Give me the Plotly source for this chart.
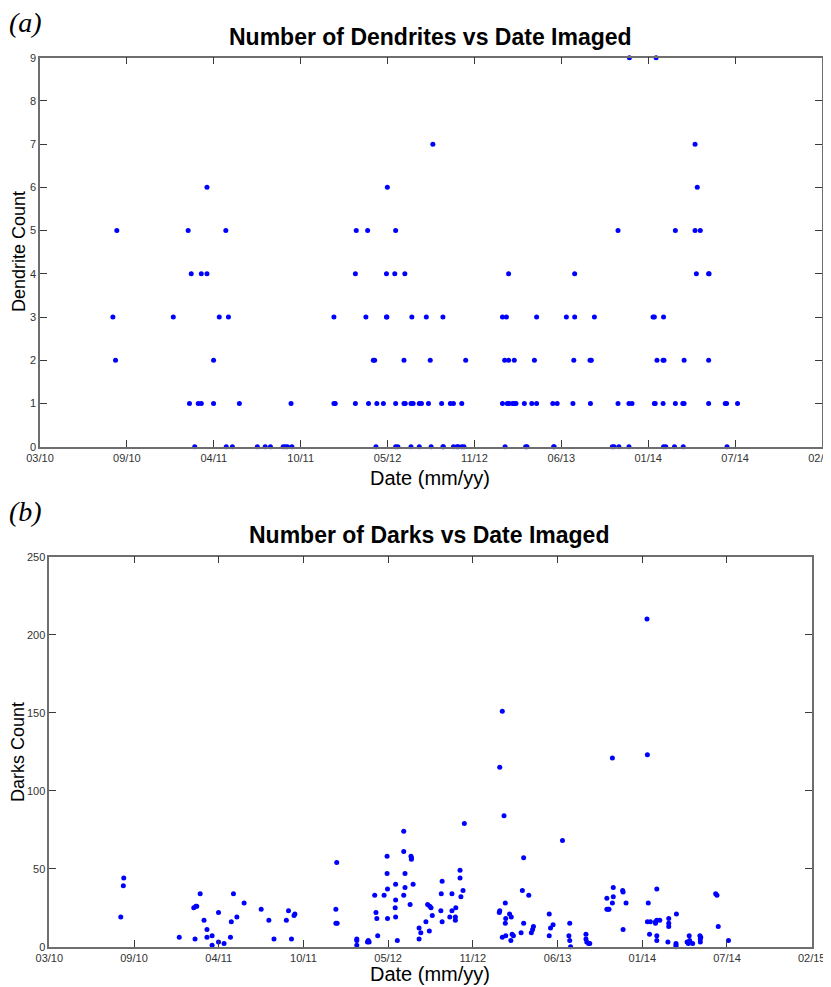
import pandas as pd
import plotly.graph_objects as go

# ---------------- data ----------------
TICK_LABELS = ["03/10", "09/10", "04/11", "10/11", "05/12", "11/12", "06/13", "01/14", "07/14", "02/15"]
X_START = "2010-03-13 12:00"
X_END = "2015-02-02 00:00"

DENDRITE_DATES = [
    "2013-11-19", "2014-01-19",
    "2012-08-27", "2014-04-18",
    "2011-03-30", "2012-05-15", "2014-04-23",
    "2010-09-05", "2011-02-15", "2011-05-12", "2012-03-05", "2012-03-31", "2012-06-03", "2013-10-24",
    "2014-03-04", "2014-04-18", "2014-04-30",
    "2011-02-22", "2011-03-17", "2011-03-30", "2012-03-03", "2012-05-13", "2012-06-01", "2012-06-24",
    "2013-02-16", "2013-07-17", "2014-04-21", "2014-05-19", "2014-05-20",
    "2010-08-27", "2011-01-12", "2011-04-27", "2011-05-18", "2012-01-14", "2012-03-27", "2012-05-13",
    "2012-05-14", "2012-07-10", "2012-08-12", "2012-09-19", "2013-02-02", "2013-02-11", "2013-04-21",
    "2013-06-28", "2013-07-17", "2013-08-31", "2014-01-12", "2014-01-15", "2014-02-05",
    "2010-09-02", "2011-04-14", "2012-04-13", "2012-04-16", "2012-06-22", "2012-08-21", "2012-11-10",
    "2013-02-07", "2013-02-16", "2013-03-01", "2013-04-16", "2013-07-15", "2013-08-21", "2013-08-24",
    "2014-01-21", "2014-02-04", "2014-02-06", "2014-03-24", "2014-05-19",
    "2011-02-18", "2011-03-10", "2011-03-17", "2011-04-14", "2011-06-12", "2011-10-08", "2012-01-14",
    "2012-01-17", "2012-03-03", "2012-04-02", "2012-04-21", "2012-05-06", "2012-06-03", "2012-06-22",
    "2012-06-25", "2012-07-08", "2012-07-13", "2012-07-27", "2012-08-01", "2012-08-17", "2012-09-16",
    "2012-10-06", "2012-10-13", "2012-11-01", "2013-02-02", "2013-02-13", "2013-02-17", "2013-02-25",
    "2013-03-01", "2013-03-05", "2013-03-24", "2013-04-10", "2013-04-21", "2013-05-28", "2013-06-07",
    "2013-07-13", "2013-08-22", "2013-10-24", "2013-11-18", "2013-11-25", "2014-01-15", "2014-01-17",
    "2014-02-04", "2014-03-04", "2014-03-21", "2014-03-24", "2014-05-19", "2014-06-26", "2014-06-29",
    "2014-07-24",
    "2011-03-02", "2011-05-13", "2011-05-27", "2011-07-23", "2011-08-10", "2011-08-22", "2011-09-20",
    "2011-09-25", "2011-09-30", "2011-10-10", "2012-04-19", "2012-06-03", "2012-06-08", "2012-07-08",
    "2012-07-27", "2012-08-23", "2012-09-19", "2012-09-20", "2012-10-13", "2012-10-21", "2012-10-24",
    "2012-11-01", "2012-11-06", "2013-02-08", "2013-03-27", "2013-03-30", "2013-05-30", "2013-05-31",
    "2013-10-11", "2013-10-15", "2013-10-26", "2013-11-18", "2014-02-05", "2014-02-10", "2014-03-02",
    "2014-03-22", "2014-06-30",
]
DENDRITE_COUNTS = [
    9, 9,
    7, 7,
    6, 6, 6,
    5, 5, 5, 5, 5, 5, 5,
    5, 5, 5,
    4, 4, 4, 4, 4, 4, 4,
    4, 4, 4, 4, 4,
    3, 3, 3, 3, 3, 3, 3,
    3, 3, 3, 3, 3, 3, 3,
    3, 3, 3, 3, 3, 3,
    2, 2, 2, 2, 2, 2, 2,
    2, 2, 2, 2, 2, 2, 2,
    2, 2, 2, 2, 2,
    1, 1, 1, 1, 1, 1, 1,
    1, 1, 1, 1, 1, 1, 1,
    1, 1, 1, 1, 1, 1, 1,
    1, 1, 1, 1, 1, 1, 1,
    1, 1, 1, 1, 1, 1, 1,
    1, 1, 1, 1, 1, 1, 1,
    1, 1, 1, 1, 1, 1, 1,
    1,
    0, 0, 0, 0, 0, 0, 0,
    0, 0, 0, 0, 0, 0, 0,
    0, 0, 0, 0, 0, 0, 0,
    0, 0, 0, 0, 0, 0, 0,
    0, 0, 0, 0, 0, 0, 0,
    0, 0,
]

DARKS_DATES = [
    "2010-08-28", "2010-09-03", "2010-09-04", "2011-01-12", "2011-02-15", "2011-02-20", "2011-02-22",
    "2011-02-18", "2011-03-02", "2011-03-11", "2011-03-18", "2011-03-18", "2011-03-30", "2011-03-30",
    "2011-04-14", "2011-04-14", "2011-04-27", "2011-05-12", "2011-05-14", "2011-05-19", "2011-05-27",
    "2011-06-13", "2011-07-23", "2011-08-10", "2011-08-22", "2011-09-20", "2011-09-25", "2011-10-02",
    "2011-10-08", "2011-10-10", "2012-01-16", "2012-01-14", "2012-01-14", "2012-01-17", "2012-03-03",
    "2012-03-03", "2012-03-03", "2012-03-28", "2012-03-30", "2012-04-01", "2012-04-14", "2012-04-17",
    "2012-04-19", "2012-04-21", "2012-05-06", "2012-05-13", "2012-05-13", "2012-05-14", "2012-05-14",
    "2012-06-01", "2012-06-02", "2012-06-02", "2012-06-02", "2012-06-06", "2012-06-21", "2012-06-21",
    "2012-06-24", "2012-06-24", "2012-06-21", "2012-07-06", "2012-07-08", "2012-07-09", "2012-07-09",
    "2012-07-13", "2012-07-27", "2012-07-27", "2012-07-31", "2012-08-12", "2012-08-16", "2012-08-21",
    "2012-08-24", "2012-08-20", "2012-08-27", "2012-09-16", "2012-09-19", "2012-09-17", "2012-09-19",
    "2012-10-07", "2012-10-12", "2012-10-12", "2012-10-20", "2012-10-20", "2012-10-21", "2012-10-31",
    "2012-10-31", "2012-11-02", "2012-11-07", "2012-11-10", "2013-02-01", "2013-02-07", "2013-02-11",
    "2013-01-31", "2013-02-01", "2013-02-07", "2013-02-14", "2013-02-14", "2013-02-15", "2013-02-15",
    "2013-02-24", "2013-02-28", "2013-02-27", "2013-03-02", "2013-03-05", "2013-03-26", "2013-03-29",
    "2013-03-23", "2013-03-29", "2013-04-10", "2013-04-16", "2013-04-19", "2013-04-21", "2013-05-28",
    "2013-05-28", "2013-05-31", "2013-06-06", "2013-06-28", "2013-07-13", "2013-07-15", "2013-07-15",
    "2013-07-17", "2013-08-22", "2013-08-22", "2013-08-24", "2013-08-28", "2013-08-31", "2013-10-10",
    "2013-10-10", "2013-10-13", "2013-10-15", "2013-10-25", "2013-10-25", "2013-10-23", "2013-10-23",
    "2013-11-16", "2013-11-17", "2013-11-17", "2013-11-24", "2014-01-12", "2014-01-13", "2014-01-15",
    "2014-01-13", "2014-01-20", "2014-01-18", "2014-02-01", "2014-02-01", "2014-02-04", "2014-02-04",
    "2014-02-04", "2014-02-04", "2014-02-11", "2014-03-04", "2014-03-04", "2014-03-04", "2014-03-02",
    "2014-03-21", "2014-03-21", "2014-03-21", "2014-03-22", "2014-04-16", "2014-04-19", "2014-04-22",
    "2014-04-21", "2014-04-29", "2014-05-16", "2014-05-17", "2014-05-17", "2014-05-18", "2014-06-22",
    "2014-06-25", "2014-06-28", "2014-07-22",
]
DARKS_COUNTS = [
    19, 39, 44, 6, 25, 26, 26,
    5, 34, 17, 11, 6, 7, 1,
    22, 3, 2, 6, 16, 34, 19,
    28, 24, 17, 5, 17, 23, 5,
    20, 21, 54, 24, 15, 15, 5,
    4, 1, 3, 4, 3, 33, 22,
    18, 7, 33, 58, 47, 37, 18,
    25, 40, 30, 19, 4, 74, 61,
    47, 38, 33, 27, 58, 57, 56,
    40, 12, 5, 9, 16, 27, 26,
    25, 10, 20, 23, 42, 34, 16,
    19, 34, 23, 19, 17, 25, 49,
    44, 32, 36, 79, 115, 151, 84,
    22, 23, 6, 28, 15, 18, 7,
    21, 19, 4, 8, 7, 36, 57,
    9, 15, 33, 9, 11, 13, 21,
    7, 12, 14, 68, 7, 4, 15,
    0, 8, 5, 3, 2, 2, 31,
    24, 24, 24, 38, 32, 28, 121,
    36, 35, 11, 28, 210, 123, 28,
    16, 16, 8, 16, 15, 17, 37,
    7, 4, 17, 18, 15, 13, 3,
    2, 1, 0, 21, 3, 2, 4,
    7, 2, 7, 5, 3, 6, 34,
    33, 13, 4,
]

# ---------------- layout helpers ----------------
# the page body has an 8 px default margin, so the figure is made 8 px smaller
# and every position is given in window pixels minus that offset
PAGE_OFFSET = 8
W, H = 831 - PAGE_OFFSET, 987 - PAGE_OFFSET


def px_x(x):
    return (x - PAGE_OFFSET) / W


def px_y(y):
    return 1 - (y - PAGE_OFFSET) / H


tickvals = pd.date_range(pd.Timestamp(X_START), pd.Timestamp(X_END), periods=len(TICK_LABELS))

FONT = "Liberation Sans, Arial, Helvetica, sans-serif"
SERIF = "Liberation Serif, Times New Roman, serif"
BLUE = "#0000FF"

fig = go.Figure()
fig.add_trace(go.Scatter(
    x=pd.to_datetime(DENDRITE_DATES), y=DENDRITE_COUNTS, mode="markers",
    marker=dict(color=BLUE, size=5, symbol="circle", line=dict(width=0)),
    xaxis="x", yaxis="y", cliponaxis=False, showlegend=False,
))
fig.add_trace(go.Scatter(
    x=pd.to_datetime(DARKS_DATES), y=DARKS_COUNTS, mode="markers",
    marker=dict(color=BLUE, size=5, symbol="circle", line=dict(width=0)),
    xaxis="x2", yaxis="y2", cliponaxis=False, showlegend=False,
))

axis_common = dict(
    showline=True, linecolor="#6e6e6e", linewidth=1.5, mirror="ticks",
    ticks="inside", ticklen=7, tickwidth=1, tickcolor="#3a3a3a",
    showgrid=False, zeroline=False, automargin=False,
    tickfont=dict(family=FONT, size=11, color="#333333"),
)

fig.update_layout(
    width=W, height=H,
    margin=dict(l=0, r=0, t=0, b=0, pad=0, autoexpand=False),
    paper_bgcolor="white", plot_bgcolor="white",
    xaxis=dict(
        domain=[px_x(40), px_x(822)], anchor="y", type="date",
        range=[X_START, X_END], tickmode="array", tickvals=tickvals, ticktext=TICK_LABELS,
        ticklabeloverflow="allow", **axis_common,
    ),
    yaxis=dict(
        domain=[px_y(446.7), px_y(57.7)], anchor="x", range=[0, 9],
        tickmode="linear", tick0=0, dtick=1, **axis_common,
    ),
    xaxis2=dict(
        domain=[px_x(49.3), px_x(811.7)], anchor="y2", type="date",
        range=[X_START, X_END], tickmode="array", tickvals=tickvals, ticktext=TICK_LABELS,
        ticklabeloverflow="allow", **axis_common,
    ),
    yaxis2=dict(
        domain=[px_y(946.7), px_y(556.7)], anchor="x2", range=[0, 250],
        tickmode="linear", tick0=0, dtick=50, **axis_common,
    ),
)


def text(s, x, y, size, bold=False, family=FONT, angle=0, italic=False):
    if bold:
        s = "<b>" + s + "</b>"
    if italic:
        s = "<i>" + s + "</i>"
    fig.add_annotation(
        text=s, x=px_x(x), y=px_y(y), xref="paper", yref="paper",
        xanchor="center", yanchor="middle", showarrow=False, textangle=angle,
        font=dict(family=family, size=size, color="black"), borderpad=0,
    )


text("(a)", 25, 22, 28, family=SERIF, italic=True)
text("Number of Dendrites vs Date Imaged", 430, 37, 23, bold=True)
text("Date (mm/yy)", 430, 478, 20)
text("Dendrite Count", 19, 252, 18, angle=-90)

text("(b)", 25, 511, 28, family=SERIF, italic=True)
text("Number of Darks vs Date Imaged", 429, 535, 23, bold=True)
text("Date (mm/yy)", 430, 974, 20)
text("Darks Count", 18, 752, 18, angle=-90)

fig.write_html("out.html")
